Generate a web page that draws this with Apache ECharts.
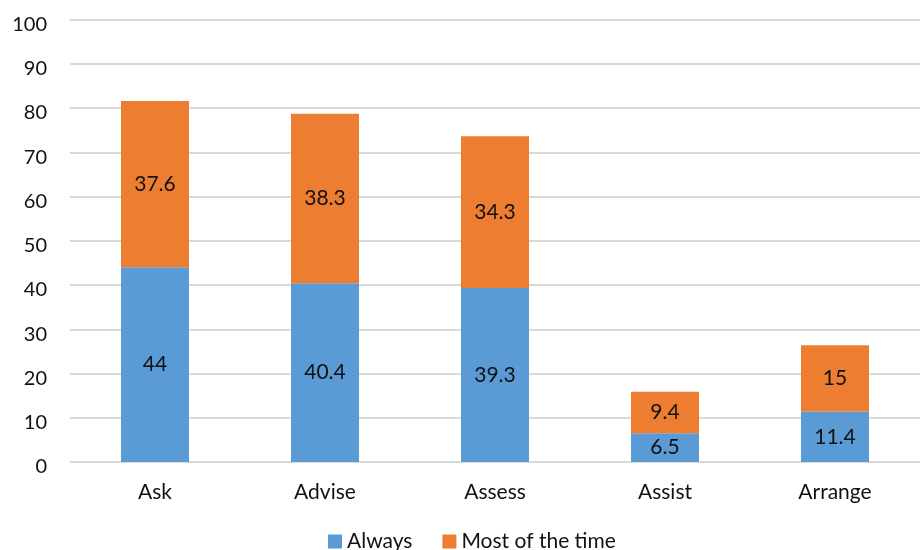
<!DOCTYPE html>
<html>
<head>
<meta charset="utf-8">
<script src="https://cdn.jsdelivr.net/npm/echarts@6/dist/echarts.min.js"></script>
<style>
  html, body { margin: 0; padding: 0; background: #fff; }
  #chart { width: 920px; height: 550px; }
</style>
</head>
<body>
<div id="chart"></div>
<script>
// Stacked frequency of the 5 A's actions
const categories = ['Ask', 'Advise', 'Assess', 'Assist', 'Arrange'];
const always = [44, 40.4, 39.3, 6.5, 11.4];
const mostOfTheTime = [37.6, 38.3, 34.3, 9.4, 15];
const yTicks = { min: 0, max: 100, interval: 10 };

const font = 'Lato, "Open Sans", sans-serif';
const textColor = '#111111';

const chart = echarts.init(document.getElementById('chart'), null, { renderer: 'canvas' });

const labelStyle = {
  show: true,
  position: 'inside',
  color: textColor,
  fontFamily: font,
  fontSize: 21
};

chart.setOption({
  animation: false,
  grid: { left: 70, right: 0, top: 19.5, bottom: 88, containLabel: false },
  legend: {
    bottom: -7,
    left: 323,
    itemWidth: 14,
    itemHeight: 14,
    itemGap: 30,
    icon: 'rect',
    textStyle: { color: textColor, fontFamily: font, fontSize: 21 },
    data: ['Always', 'Most of the time']
  },
  xAxis: {
    type: 'category',
    data: categories,
    axisLine: { show: false },
    axisTick: { show: false },
    axisLabel: { color: textColor, fontFamily: font, fontSize: 21, margin: 20 }
  },
  yAxis: {
    type: 'value',
    min: yTicks.min,
    max: yTicks.max,
    interval: yTicks.interval,
    axisLine: { show: false },
    axisTick: { show: false },
    axisLabel: {
      color: textColor, fontFamily: font, fontSize: 20, margin: 23,
      formatter: '{v|{value}}',
      rich: { v: { fontFamily: font, fontSize: 20, color: textColor, padding: [10, 0, 0, 0] } }
    },
    splitLine: { lineStyle: { color: '#d9d9d9', width: 2 } }
  },
  series: [
    {
      name: 'Always',
      type: 'bar',
      stack: 'total',
      barWidth: '40%',
      data: always,
      itemStyle: { color: '#5B9BD5' },
      label: labelStyle
    },
    {
      name: 'Most of the time',
      type: 'bar',
      stack: 'total',
      barWidth: '40%',
      data: mostOfTheTime,
      itemStyle: { color: '#ED7D31' },
      label: labelStyle
    }
  ]
});
</script>
</body>
</html>
